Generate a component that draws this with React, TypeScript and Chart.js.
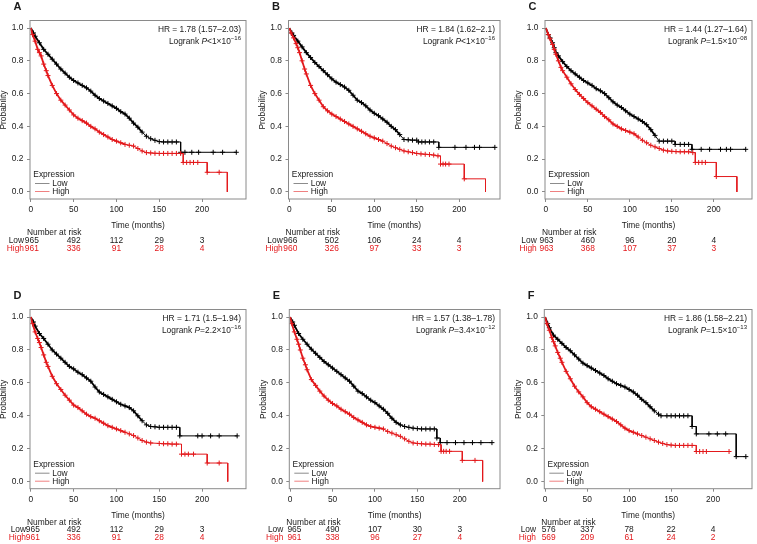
import React, { useEffect, useRef } from "react";
import { Chart, registerables } from "chart.js";

Chart.register(...registerables);

type Pt = [number, number];

// ---------- data (months, survival probability); repeated time = step drop ----------
const A_LOW: Pt[] = [[0,1],[3,0.97],[5,0.95],[10,0.91],[15,0.87],[20,0.84],[25,0.81],[30,0.78],[35,0.75],[40,0.725],[45,0.7],[50,0.68],[55,0.665],[60,0.65],[65,0.635],[70,0.615],[75,0.59],[80,0.57],[85,0.555],[90,0.54],[95,0.525],[100,0.51],[105,0.49],[110,0.475],[115,0.45],[120,0.42],[125,0.395],[130,0.365],[135,0.34],[140,0.325],[145,0.315],[150,0.307],[155,0.305],[160,0.305],[165,0.305],[170,0.305],[175,0.305],[175,0.242],[180,0.242],[188,0.242],[196,0.242],[213,0.242],[224,0.242],[240,0.242]];
const A_HIGH: Pt[] = [[0,1],[2,0.96],[5,0.92],[8,0.87],[10,0.85],[12,0.83],[15,0.78],[18,0.74],[20,0.71],[25,0.65],[30,0.6],[35,0.56],[40,0.53],[45,0.5],[50,0.47],[55,0.45],[60,0.435],[65,0.42],[70,0.4],[75,0.385],[80,0.365],[85,0.35],[90,0.335],[95,0.32],[100,0.31],[105,0.3],[110,0.29],[115,0.285],[120,0.28],[125,0.265],[130,0.25],[135,0.24],[140,0.238],[145,0.236],[150,0.235],[155,0.235],[160,0.235],[165,0.235],[170,0.235],[175,0.235],[178,0.235],[178,0.18],[182,0.18],[186,0.18],[190,0.18],[195,0.18],[206,0.18],[206,0.12],[220,0.12],[229.5,0.12],[229.5,0]];
const B_LOW: Pt[] = [[0,1],[3,0.97],[5,0.955],[10,0.92],[15,0.885],[20,0.85],[25,0.82],[30,0.79],[35,0.765],[40,0.74],[45,0.715],[50,0.69],[55,0.67],[60,0.655],[65,0.64],[70,0.62],[75,0.59],[80,0.56],[85,0.545],[90,0.525],[95,0.5],[100,0.48],[105,0.465],[110,0.445],[115,0.425],[120,0.4],[125,0.38],[130,0.35],[135,0.32],[140,0.318],[145,0.316],[150,0.316],[152,0.305],[156,0.305],[160,0.305],[165,0.305],[170,0.305],[176,0.305],[176,0.272],[195,0.272],[208,0.272],[218,0.272],[224,0.272],[242,0.272]];
const B_HIGH: Pt[] = [[0,1],[2,0.97],[5,0.94],[8,0.905],[10,0.88],[12,0.85],[15,0.8],[18,0.75],[20,0.72],[25,0.65],[30,0.6],[35,0.56],[40,0.52],[45,0.495],[50,0.475],[55,0.46],[60,0.445],[65,0.43],[70,0.415],[75,0.4],[80,0.385],[85,0.37],[90,0.355],[95,0.34],[100,0.33],[105,0.32],[110,0.31],[115,0.295],[120,0.28],[125,0.27],[130,0.26],[135,0.25],[140,0.245],[145,0.24],[150,0.235],[155,0.232],[160,0.23],[165,0.228],[170,0.225],[175,0.22],[178,0.22],[178,0.17],[181,0.17],[184,0.17],[188,0.17],[206,0.17],[206,0.08],[231,0.08],[231,0]];
const C_LOW: Pt[] = [[0,1],[3,0.96],[5,0.94],[8,0.91],[10,0.88],[12,0.85],[15,0.83],[20,0.795],[25,0.765],[30,0.74],[35,0.72],[40,0.7],[45,0.68],[50,0.665],[55,0.65],[60,0.63],[65,0.617],[70,0.6],[75,0.575],[80,0.55],[85,0.53],[90,0.515],[95,0.495],[100,0.475],[105,0.46],[110,0.445],[115,0.43],[120,0.41],[125,0.38],[130,0.345],[135,0.31],[140,0.31],[145,0.31],[150,0.31],[154,0.31],[154,0.29],[160,0.29],[165,0.29],[170,0.29],[174,0.29],[174,0.26],[185,0.26],[195,0.26],[208,0.26],[215,0.26],[220,0.26],[238,0.26]];
const C_HIGH: Pt[] = [[0,1],[3,0.96],[5,0.935],[8,0.9],[10,0.87],[12,0.84],[15,0.8],[18,0.76],[20,0.74],[25,0.7],[30,0.66],[35,0.625],[40,0.595],[45,0.57],[50,0.545],[55,0.525],[60,0.505],[65,0.485],[70,0.46],[75,0.44],[80,0.415],[85,0.4],[90,0.385],[95,0.375],[100,0.365],[105,0.355],[110,0.335],[115,0.315],[120,0.3],[125,0.285],[130,0.275],[135,0.265],[140,0.255],[145,0.25],[150,0.248],[155,0.246],[160,0.245],[165,0.245],[170,0.245],[175,0.24],[178,0.24],[178,0.18],[182,0.18],[186,0.18],[190,0.18],[203,0.18],[203,0.094],[227.5,0.094],[227.5,0]];
const D_LOW: Pt[] = [[0,1],[3,0.97],[5,0.945],[10,0.9],[15,0.87],[20,0.835],[25,0.8],[30,0.775],[35,0.75],[40,0.725],[45,0.7],[50,0.685],[55,0.665],[60,0.65],[65,0.63],[70,0.61],[75,0.575],[80,0.545],[85,0.53],[90,0.515],[95,0.5],[100,0.485],[105,0.47],[110,0.46],[115,0.45],[120,0.43],[125,0.4],[130,0.37],[135,0.345],[140,0.335],[145,0.333],[150,0.33],[155,0.33],[160,0.33],[165,0.33],[170,0.33],[174,0.33],[174,0.278],[195,0.278],[200,0.278],[210,0.278],[220,0.278],[241,0.278]];
const D_HIGH: Pt[] = [[0,1],[2,0.96],[5,0.91],[8,0.87],[10,0.845],[12,0.815],[15,0.77],[18,0.725],[20,0.7],[25,0.64],[30,0.595],[35,0.56],[40,0.525],[45,0.495],[50,0.465],[55,0.45],[60,0.43],[65,0.41],[70,0.395],[75,0.385],[80,0.37],[85,0.355],[90,0.34],[95,0.33],[100,0.32],[105,0.31],[110,0.3],[115,0.29],[120,0.28],[125,0.265],[130,0.25],[135,0.24],[140,0.235],[150,0.232],[155,0.23],[160,0.23],[165,0.228],[170,0.228],[176,0.228],[176,0.167],[180,0.167],[184,0.167],[190,0.167],[206,0.167],[206,0.113],[220,0.113],[230,0.113],[230,0]];
const E_LOW: Pt[] = [[0,1],[3,0.97],[5,0.95],[10,0.9],[15,0.865],[20,0.835],[25,0.805],[30,0.78],[35,0.755],[40,0.73],[45,0.71],[50,0.69],[55,0.67],[60,0.65],[65,0.63],[70,0.61],[75,0.58],[80,0.55],[85,0.535],[90,0.515],[95,0.495],[100,0.48],[105,0.46],[110,0.44],[115,0.415],[120,0.385],[125,0.36],[130,0.345],[135,0.335],[140,0.33],[145,0.325],[150,0.322],[155,0.32],[160,0.32],[165,0.32],[170,0.32],[173,0.32],[173,0.265],[177,0.265],[177,0.237],[185,0.237],[195,0.237],[205,0.237],[215,0.237],[225,0.237],[238,0.237]];
const E_HIGH: Pt[] = [[0,1],[2,0.96],[5,0.91],[8,0.865],[10,0.835],[12,0.8],[15,0.75],[18,0.71],[20,0.68],[25,0.62],[30,0.585],[35,0.55],[40,0.52],[45,0.495],[50,0.475],[55,0.46],[60,0.44],[65,0.425],[70,0.41],[75,0.39],[80,0.375],[85,0.36],[90,0.345],[95,0.335],[100,0.33],[105,0.325],[110,0.32],[115,0.305],[120,0.295],[125,0.285],[130,0.275],[135,0.26],[140,0.245],[145,0.235],[150,0.232],[155,0.23],[160,0.228],[165,0.228],[170,0.226],[175,0.225],[178,0.225],[178,0.184],[181,0.184],[184,0.184],[188,0.184],[203,0.184],[203,0.129],[218,0.129],[227,0.129],[227,0]];
const F_LOW: Pt[] = [[0,1],[3,0.96],[5,0.935],[10,0.89],[15,0.865],[20,0.84],[25,0.815],[30,0.795],[35,0.77],[40,0.745],[45,0.72],[50,0.705],[55,0.69],[60,0.675],[65,0.66],[70,0.645],[75,0.625],[80,0.61],[85,0.595],[90,0.585],[95,0.575],[100,0.56],[105,0.545],[110,0.525],[115,0.5],[120,0.48],[125,0.455],[130,0.43],[135,0.41],[138,0.4],[145,0.4],[150,0.4],[155,0.4],[160,0.4],[165,0.4],[170,0.4],[175,0.4],[175,0.335],[180,0.335],[180,0.29],[195,0.29],[205,0.29],[215,0.29],[227.5,0.29],[227.5,0.152],[239,0.152]];
const F_HIGH: Pt[] = [[0,1],[2,0.96],[5,0.92],[8,0.875],[10,0.85],[12,0.825],[15,0.785],[18,0.75],[20,0.725],[25,0.67],[30,0.625],[35,0.58],[40,0.545],[45,0.515],[50,0.48],[55,0.455],[60,0.44],[65,0.425],[70,0.41],[75,0.395],[80,0.38],[85,0.365],[90,0.345],[95,0.325],[100,0.31],[105,0.3],[110,0.29],[115,0.28],[120,0.27],[125,0.26],[130,0.25],[135,0.24],[140,0.232],[145,0.225],[150,0.222],[155,0.22],[160,0.22],[165,0.22],[170,0.22],[175,0.22],[180,0.22],[180,0.183],[184,0.183],[188,0.183],[192,0.183],[219,0.183]];

const X_TICKS = [0, 50, 100, 150, 200];
const Y_TICKS = [0, 0.2, 0.4, 0.6, 0.8, 1.0];
const RISK_TIMES = [0, 50, 100, 150, 200];

const A_RISK_LOW = [965, 492, 112, 29, 3];
const A_RISK_HIGH = [961, 336, 91, 28, 4];
const B_RISK_LOW = [966, 502, 106, 24, 4];
const B_RISK_HIGH = [960, 326, 97, 33, 3];
const C_RISK_LOW = [963, 460, 96, 20, 4];
const C_RISK_HIGH = [963, 368, 107, 37, 3];
const D_RISK_LOW = [965, 492, 112, 29, 3];
const D_RISK_HIGH = [961, 336, 91, 28, 4];
const E_RISK_LOW = [965, 490, 107, 30, 3];
const E_RISK_HIGH = [961, 338, 96, 27, 4];
const F_RISK_LOW = [576, 337, 78, 22, 4];
const F_RISK_HIGH = [569, 209, 61, 24, 2];

const HR_TEXT = ["1.78 (1.57–2.03)", "1.84 (1.62–2.1)", "1.44 (1.27–1.64)", "1.71 (1.5–1.94)", "1.57 (1.38–1.78)", "1.86 (1.58–2.21)"];
const P_TEXT = ["<1×10", "<1×10", "=1.5×10", "=2.2×10", "=3.4×10", "=1.5×10"];
const P_EXP = ["−16", "−16", "−08", "−16", "−12", "−13"];
const LETTERS = ["A", "B", "C", "D", "E", "F"];

// ---------- styling ----------
const FAMILY = '"Liberation Sans", Arial, Helvetica, sans-serif';
const FS = 8.4;
const TXT = "#1a1a1a";
const RED = "#e3191c";
const BOX = "#8a8a8a";

interface Panel {
  idx: number;
  low: Pt[];
  high: Pt[];
  riskLow: number[];
  riskHigh: number[];
  cx: number; cy: number; w: number; h: number;
  l: number; r: number; t: number; b: number;
  labDx: number; firstDx: number;
}

const ROW1 = { t: 20.5, b: 199 };
const ROW2 = { t: 309.5, b: 488.7 };

const PANELS: Panel[] = [
  { idx: 0, low: A_LOW, high: A_HIGH, riskLow: A_RISK_LOW, riskHigh: A_RISK_HIGH, cx: 0, cy: 0, w: 252, h: 272, l: 30, r: 246, ...ROW1, labDx: -6, firstDx: 1 },
  { idx: 1, low: B_LOW, high: B_HIGH, riskLow: B_RISK_LOW, riskHigh: B_RISK_HIGH, cx: 252, cy: 0, w: 253, h: 272, l: 288.5, r: 501.7, ...ROW1, labDx: -5.8, firstDx: 1 },
  { idx: 2, low: C_LOW, high: C_HIGH, riskLow: C_RISK_LOW, riskHigh: C_RISK_HIGH, cx: 505, cy: 0, w: 252, h: 272, l: 545, r: 756, ...ROW1, labDx: -8.3, firstDx: 0.7 },
  { idx: 3, low: D_LOW, high: D_HIGH, riskLow: D_RISK_LOW, riskHigh: D_RISK_HIGH, cx: 0, cy: 272, w: 252, h: 272, l: 30, r: 246, ...ROW2, labDx: -4, firstDx: 2 },
  { idx: 4, low: E_LOW, high: E_HIGH, riskLow: E_RISK_LOW, riskHigh: E_RISK_HIGH, cx: 252, cy: 272, w: 253, h: 272, l: 289.3, r: 502, ...ROW2, labDx: -6, firstDx: 4.3 },
  { idx: 5, low: F_LOW, high: F_HIGH, riskLow: F_RISK_LOW, riskHigh: F_RISK_HIGH, cx: 505, cy: 272, w: 252, h: 272, l: 544.3, r: 756, ...ROW2, labDx: -8.3, firstDx: 3.5 },
];

const YW = 22;
const XH = 20;
const X_MIN = -1;
const PX_PER_MONTH = 0.856;
const Y_MIN = -0.043;
const Y_MAX = 1.046;

function decorPlugin(p: Panel) {
  return {
    id: "decor" + p.idx,
    afterDraw(chart: any) {
      const { ctx, chartArea: a, scales } = chart;
      const xs = scales.x;
      const ys = scales.y;
      const font = (s = FS, st = "") => `${st}${s}px ${FAMILY}`;
      ctx.save();
      ctx.strokeStyle = BOX;
      ctx.lineWidth = 1;
      ctx.strokeRect(a.left, a.top, a.right - a.left, a.bottom - a.top);

      ctx.fillStyle = TXT;
      ctx.textBaseline = "middle";

      ctx.font = font(11, "bold ");
      ctx.textAlign = "left";
      ctx.fillText(LETTERS[p.idx], a.left - 16.5, a.top - 13.5);

      ctx.font = font();
      ctx.textAlign = "right";
      ctx.fillText(`HR = ${HR_TEXT[p.idx]}`, a.right - 5, a.top + 9);
      const yL = a.top + 21;
      const head = "Logrank ";
      const tail = P_TEXT[p.idx];
      const sup = P_EXP[p.idx];
      ctx.font = font();
      const wHead = ctx.measureText(head).width;
      const wTail = ctx.measureText(tail).width;
      ctx.font = font(FS, "italic ");
      const wP = ctx.measureText("P").width;
      ctx.font = font(6);
      const wSup = ctx.measureText(sup).width;
      let x = a.right - 5 - (wHead + wP + wTail + wSup);
      ctx.textAlign = "left";
      ctx.font = font();
      ctx.fillText(head, x, yL); x += wHead;
      ctx.font = font(FS, "italic ");
      ctx.fillText("P", x, yL); x += wP;
      ctx.font = font();
      ctx.fillText(tail, x, yL); x += wTail;
      ctx.font = font(6);
      ctx.fillText(sup, x, yL - 3.5);

      ctx.font = font();
      ctx.fillText("Expression", a.left + 3.3, a.bottom - 24.5);
      ctx.lineWidth = 1;
      ctx.strokeStyle = "#8c8c8c";
      ctx.beginPath();
      ctx.moveTo(a.left + 5, a.bottom - 15.5);
      ctx.lineTo(a.left + 19.5, a.bottom - 15.5);
      ctx.stroke();
      ctx.strokeStyle = "#ef8080";
      ctx.beginPath();
      ctx.moveTo(a.left + 5, a.bottom - 7.5);
      ctx.lineTo(a.left + 19.5, a.bottom - 7.5);
      ctx.stroke();
      ctx.fillText("Low", a.left + 22.3, a.bottom - 15.5);
      ctx.fillText("High", a.left + 22.3, a.bottom - 7.5);

      ctx.textAlign = "center";
      ctx.fillText("Time (months)", (a.left + a.right) / 2, a.bottom + 26.5);
      ctx.save();
      ctx.translate(a.left - 26, ys.getPixelForValue(0.5));
      ctx.rotate(-Math.PI / 2);
      ctx.fillText("Probability", 0, 0);
      ctx.restore();

      ctx.textAlign = "left";
      ctx.fillStyle = TXT;
      ctx.fillText("Number at risk", a.left - 3, a.bottom + 33.8);
      const yLow = a.bottom + 41.4;
      const yHigh = a.bottom + 49.3;
      ctx.textAlign = "right";
      ctx.fillText("Low", a.left + p.labDx, yLow);
      ctx.fillStyle = RED;
      ctx.fillText("High", a.left + p.labDx, yHigh);
      ctx.textAlign = "center";
      RISK_TIMES.forEach((t, i) => {
        const px = xs.getPixelForValue(t) + (i === 0 ? p.firstDx : 0);
        ctx.fillStyle = TXT;
        ctx.fillText(String(p.riskLow[i]), px, yLow);
        ctx.fillStyle = RED;
        ctx.fillText(String(p.riskHigh[i]), px, yHigh);
      });
      ctx.restore();
    },
  };
}

function makeDataset(label: string, pts: Pt[], color: string, denseEnd: number, order: number) {
  const radius = (c: any) => {
    const i = c.dataIndex;
    const cur = pts[i];
    const next = pts[i + 1];
    if (!cur) return 0;
    if (cur[0] === 0 || cur[1] === 0) return 0;
    if (next && next[0] === cur[0]) return 0;
    return 2.5;
  };
  return {
    label,
    data: pts.map(([x, y]) => ({ x, y })),
    borderColor: color,
    backgroundColor: color,
    pointBorderColor: color,
    pointBackgroundColor: color,
    borderWidth: 1,
    stepped: false,
    tension: 0,
    pointStyle: "cross",
    pointRadius: radius,
    pointBorderWidth: 1,
    segment: {
      borderWidth: (c: any) => (c.p1.parsed.x <= denseEnd ? 1.8 : 1),
    },
    order,
  };
}

function KMPanel({ p }: { p: Panel }) {
  const ref = useRef<HTMLCanvasElement | null>(null);
  useEffect(() => {
    if (!ref.current) return;
    const l = p.l - p.cx;
    const r = p.r - p.cx;
    const t = p.t - p.cy;
    const b = p.b - p.cy;
    const xMax = X_MIN + (p.r - p.l) / PX_PER_MONTH;
    const tickFont = { family: FAMILY, size: FS };
    const chart = new Chart(ref.current, {
      type: "line",
      data: {
        datasets: [
          makeDataset("Low", p.low, "#000", 130, 1),
          makeDataset("High", p.high, RED, 110, 0),
        ],
      },
      options: {
        animation: false,
        responsive: false,
        maintainAspectRatio: false,
        events: [],
        layout: { padding: { left: l - YW, top: t, right: p.w - r, bottom: p.h - b - XH } },
        plugins: { legend: { display: false }, tooltip: { enabled: false } },
        scales: {
          x: {
            type: "linear",
            min: X_MIN,
            max: xMax,
            afterBuildTicks: (s: any) => { s.ticks = X_TICKS.map((v) => ({ value: v })); },
            afterFit: (s: any) => { s.height = XH; },
            grid: { drawOnChartArea: false, drawTicks: true, tickLength: 3, color: BOX },
            border: { display: false },
            ticks: { font: tickFont, color: TXT, padding: 3, maxRotation: 0, autoSkip: false, callback: (v: any) => String(v) },
          },
          y: {
            type: "linear",
            min: Y_MIN,
            max: Y_MAX,
            afterBuildTicks: (s: any) => { s.ticks = Y_TICKS.map((v) => ({ value: v })); },
            afterFit: (s: any) => { s.width = YW; },
            grid: { drawOnChartArea: false, drawTicks: true, tickLength: 3, color: BOX },
            border: { display: false },
            ticks: { font: tickFont, color: TXT, padding: 3.5, autoSkip: false, callback: (v: any) => Number(v).toFixed(1) },
          },
        },
      } as any,
      plugins: [decorPlugin(p)],
    });
    return () => chart.destroy();
  }, [p]);
  return (
    <canvas
      ref={ref}
      width={p.w}
      height={p.h}
      style={{ position: "absolute", left: p.cx, top: p.cy, width: p.w, height: p.h, display: "block" }}
    />
  );
}

export default function App() {
  return (
    <div style={{ position: "absolute", left: 0, top: 0, width: 757, height: 544, background: "#fff", overflow: "hidden" }}>
      {PANELS.map((p) => (
        <KMPanel key={p.idx} p={p} />
      ))}
    </div>
  );
}
